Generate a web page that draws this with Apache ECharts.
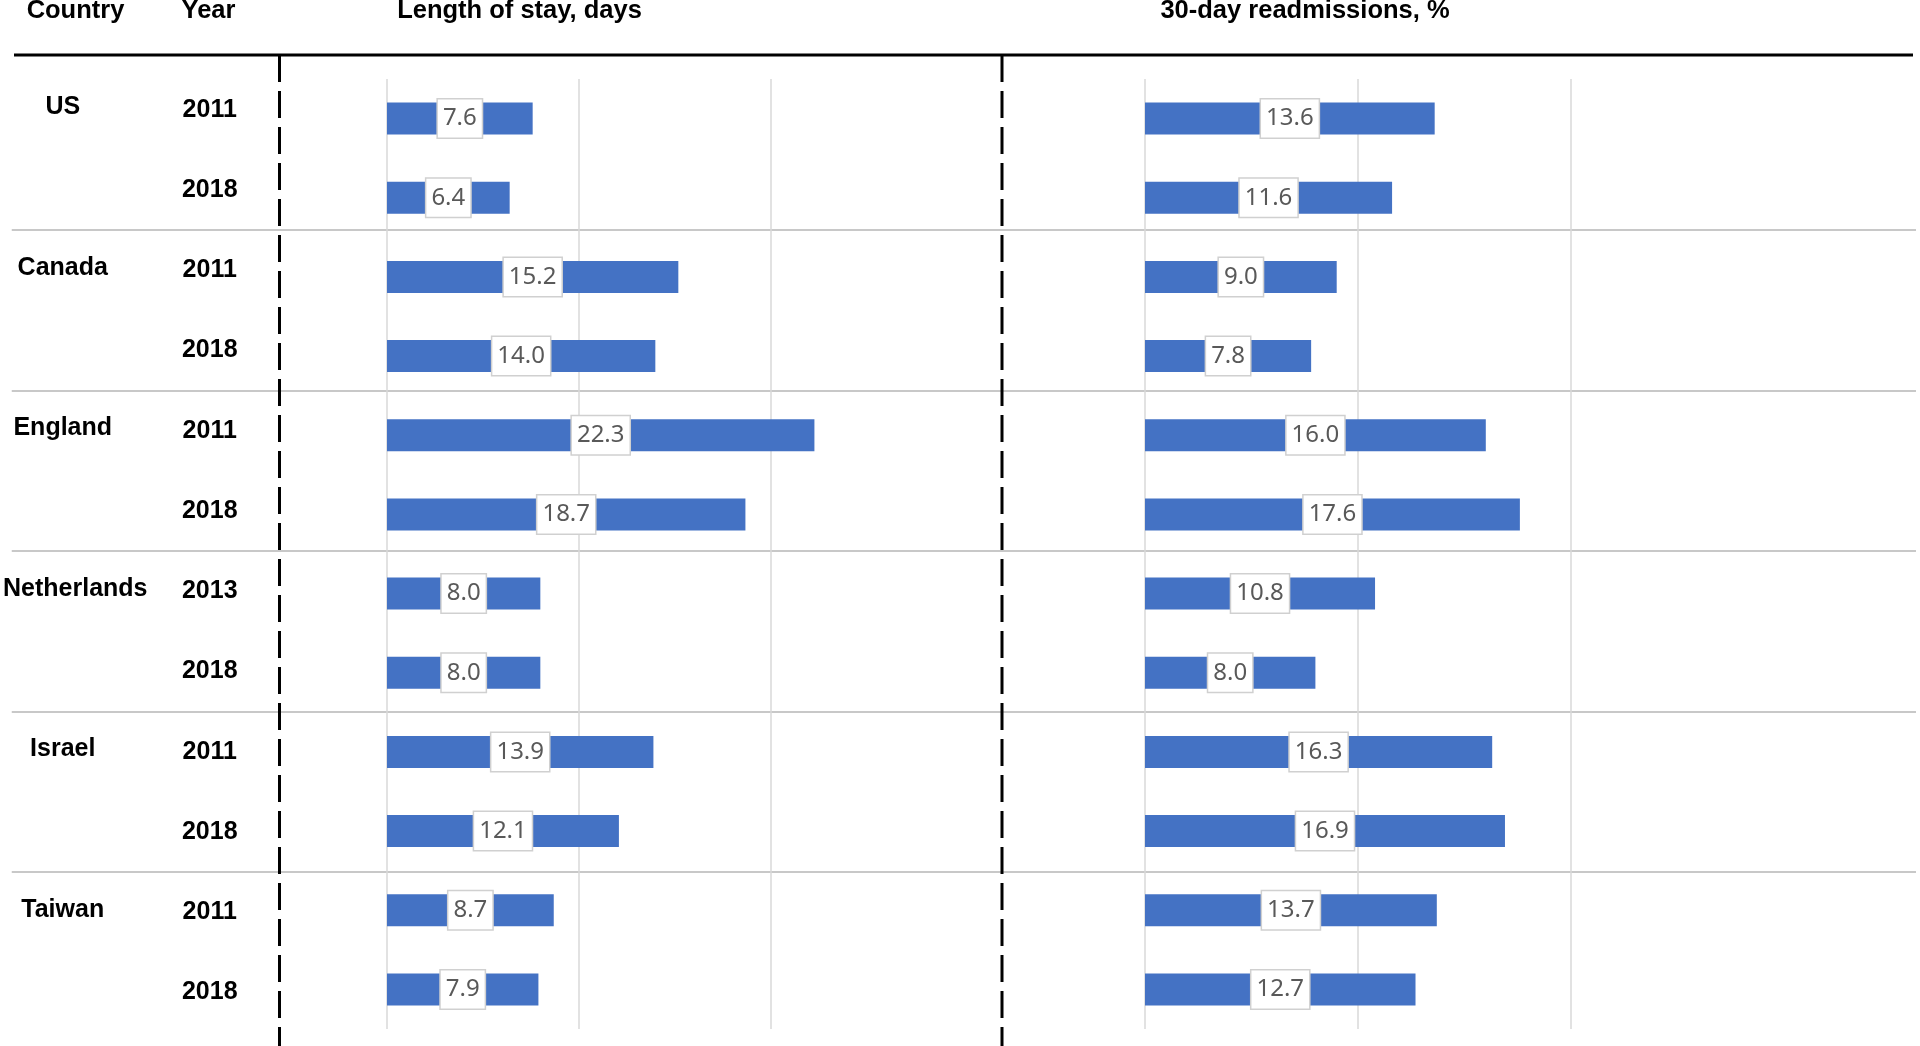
<!DOCTYPE html>
<html>
<head>
<meta charset="utf-8">
<script src="https://cdn.jsdelivr.net/npm/echarts@6/dist/echarts.min.js"></script>
<style>
  html, body { margin: 0; padding: 0; background: #fff; }
  #chart { width: 1920px; height: 1046px; }
</style>
</head>
<body>
<div id="chart"></div>
<script>
// data
const countries = ['US', 'Canada', 'England', 'Netherlands', 'Israel', 'Taiwan'];
const years = ['2011', '2018', '2011', '2018', '2011', '2018', '2013', '2018', '2011', '2018', '2011', '2018'];
const lengthOfStay = [7.6, 6.4, 15.2, 14.0, 22.3, 18.7, 8.0, 8.0, 13.9, 12.1, 8.7, 7.9];
const readmissions = [13.6, 11.6, 9.0, 7.8, 16.0, 17.6, 10.8, 8.0, 16.3, 16.9, 13.7, 12.7];
const gridTicks = [0, 10, 20];
const headers = ['Country', 'Year', 'Length of stay, days', '30-day readmissions, %'];

const rows = years.map((y, i) => countries[Math.floor(i / 2)] + ' ' + y);
const countryRows = years.map((y, i) => (i % 2 === 0 ? countries[i / 2] : ''));

const boldFont = '"Liberation Sans", Arial, sans-serif';
const gridColor = '#d9d9d9';
const barColor = '#4472C4';

const myChart = echarts.init(document.getElementById('chart'));

// value axis with only the 0/10/20 gridlines
const valueAxis = (gridIndex) => ({
  type: 'value',
  gridIndex: gridIndex,
  min: 0,
  max: 30,
  axisLine: { show: false },
  axisTick: { show: false, customValues: gridTicks },
  axisLabel: { show: false, customValues: gridTicks },
  splitLine: { show: true, lineStyle: { color: gridColor, width: 1.5 } }
});

const barCategoryAxis = (gridIndex) => ({
  type: 'category',
  gridIndex: gridIndex,
  inverse: true,
  data: rows,
  axisLine: { show: false },
  axisTick: { show: false },
  axisLabel: { show: false },
  splitLine: { show: false }
});

const barSeries = (name, axisIdx, data) => ({
  name: name,
  type: 'bar',
  xAxisIndex: axisIdx,
  yAxisIndex: axisIdx,
  data: data,
  barWidth: 32,
  itemStyle: { color: barColor },
  label: {
    show: true,
    position: 'inside',
    formatter: (p) => p.value.toFixed(1),
    fontFamily: '"Noto Sans", sans-serif',
    fontSize: 24,
    lineHeight: 26,
    color: '#595959',
    backgroundColor: '#ffffff',
    borderColor: '#d0d0d0',
    borderWidth: 1.5,
    padding: [6, 5]
  },
  emphasis: { disabled: true }
});

const headerText = (text, x) => ({
  type: 'text',
  style: {
    text: text,
    x: x,
    y: 11,
    fill: '#000',
    font: 'bold 25.5px ' + boldFont,
    align: 'center',
    verticalAlign: 'middle'
  }
});

const dashedLine = (x) => ({
  type: 'line',
  shape: { x1: x, y1: 55, x2: x, y2: 1046 },
  style: { stroke: '#000', lineWidth: 3, lineDash: [27, 9] },
  z: 10
});

myChart.setOption({
  animation: false,
  grid: [
    { left: 387, top: 79, width: 575, height: 950 },
    { left: 1145, top: 79, width: 639, height: 950 },
    // grid for the year / country columns and group separators
    { left: 10, right: 4, top: 69.5, height: 963 }
  ],
  xAxis: [
    valueAxis(0),
    valueAxis(1),
    { type: 'value', gridIndex: 2, min: 0, max: 1, show: false }
  ],
  yAxis: [
    barCategoryAxis(0),
    barCategoryAxis(1),
    {
      type: 'category',
      gridIndex: 2,
      position: 'left',
      inverse: true,
      data: years,
      axisLine: { show: false },
      axisTick: { show: false },
      axisLabel: {
        inside: true,
        margin: 198,
        align: 'center',
        fontFamily: boldFont,
        fontWeight: 'bold',
        fontSize: 25,
        color: '#000',
        padding: [0, 0, 10, 0]
      },
      splitLine: {
        show: true,
        interval: (idx) => idx > 0 && idx % 2 === 0,
        lineStyle: {
          color: ['#c8c8c8', '#c8c8c8', '#c8c8c8', '#c8c8c8', '#c8c8c8', 'rgba(0,0,0,0)'],
          width: 2
        }
      }
    },
    {
      type: 'category',
      gridIndex: 2,
      position: 'left',
      inverse: true,
      data: countryRows,
      axisLine: { show: false },
      axisTick: { show: false },
      axisLabel: {
        inside: true,
        margin: 51,
        align: 'center',
        fontFamily: boldFont,
        fontWeight: 'bold',
        fontSize: 25,
        color: '#000',
        padding: [0, 0, 5, 0],
        formatter: (v) => (v === 'Netherlands' ? '{nl|' + v + '}' : v),
        rich: {
          nl: {
            fontFamily: boldFont,
            fontWeight: 'bold',
            fontSize: 25,
            color: '#000',
            padding: [0, 0, 0, 25]
          }
        }
      },
      splitLine: { show: false }
    }
  ],
  series: [
    barSeries('Length of stay, days', 0, lengthOfStay),
    barSeries('30-day readmissions, %', 1, readmissions)
  ],
  graphic: [
    headerText(headers[0], 75.5),
    headerText(headers[1], 208.5),
    headerText(headers[2], 519.5),
    headerText(headers[3], 1305),
    {
      type: 'line',
      shape: { x1: 14, y1: 55, x2: 1913, y2: 55 },
      style: { stroke: '#000', lineWidth: 3 },
      z: 10
    },
    dashedLine(279.5),
    dashedLine(1002)
  ]
});
</script>
</body>
</html>
